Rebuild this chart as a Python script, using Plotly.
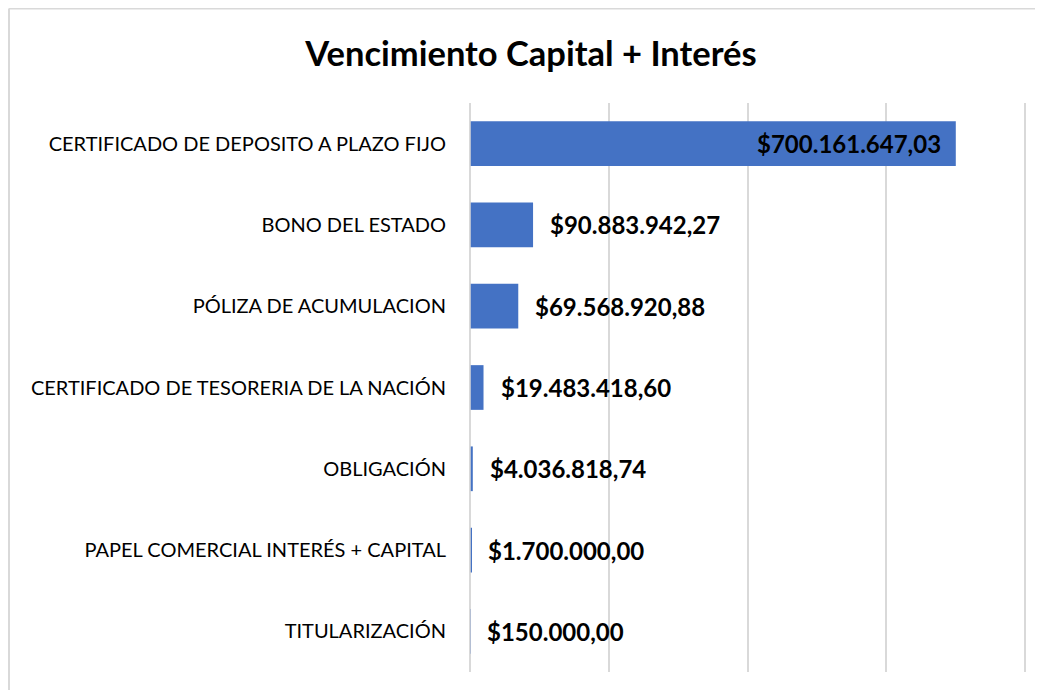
import plotly.graph_objects as go

categories = [
    "CERTIFICADO DE DEPOSITO A PLAZO FIJO",
    "BONO DEL ESTADO",
    "PÓLIZA DE ACUMULACION",
    "CERTIFICADO DE TESORERIA DE LA NACIÓN",
    "OBLIGACIÓN",
    "PAPEL COMERCIAL INTERÉS + CAPITAL",
    "TITULARIZACIÓN",
]
values = [700161647.03, 90883942.27, 69568920.88, 19483418.60, 4036818.74, 1700000.00, 150000.00]
title_text = "Vencimiento Capital + Interés"

FONT = "Lato"

def fmt(v):
    s = f"{v:,.2f}"
    s = s.replace(",", "X").replace(".", ",").replace("X", ".")
    return "$" + s

fig = go.Figure(go.Bar(
    y=categories, x=values, orientation="h",
    marker=dict(color="#4472C4", line=dict(width=0)),
    hoverinfo="skip",
))

annotations = []
for i, (c, v) in enumerate(zip(categories, values)):
    inside = i == 0
    annotations.append(dict(
        x=v, y=c, xref="x", yref="y", text=fmt(v), showarrow=False,
        xanchor="right" if inside else "left",
        xshift=-13 if inside else 15,
        font=dict(family=FONT, size=24, color="#000000", weight="bold"),
    ))

W, H = 1027, 682
L, T, PW, PH = 462, 95, 562, 569
top_y = (T + PH - 0.5) / PH
left_x = (1 - L) / PW
fig.update_layout(
    width=W, height=H,
    margin=dict(l=L, r=W - L - PW, t=T, b=H - T - PH),
    paper_bgcolor="white", plot_bgcolor="white",
    bargap=0.45,
    showlegend=False,
    title=dict(text="<b>" + title_text + "</b>", x=(523)/W, xanchor="center",
               y=1 - 46/H, yanchor="middle",
               font=dict(family=FONT, size=34.5, color="#000000")),
    font=dict(family=FONT, color="#000000"),
    annotations=annotations,
    xaxis=dict(range=[0, 810000000], tickvals=[0, 200000000, 400000000, 600000000, 800000000],
               showticklabels=False,
               showgrid=True, gridcolor="#d9d9d9", gridwidth=1.5,
               zeroline=True, zerolinecolor="#d9d9d9", zerolinewidth=1.5,
               showline=False, fixedrange=True),
    yaxis=dict(autorange="reversed", showgrid=False, zeroline=False, showline=False,
               ticks="", ticklabelstandoff=23,
               tickfont=dict(family=FONT, size=20, color="#000000")),
    shapes=[
        dict(type="line", xref="paper", yref="paper",
             x0=left_x, x1=1.2, y0=top_y, y1=top_y,
             line=dict(color="#d9d9d9", width=2), layer="below"),
        dict(type="line", xref="paper", yref="paper",
             x0=left_x, x1=left_x, y0=-0.2, y1=top_y,
             line=dict(color="#d9d9d9", width=2), layer="below"),
        dict(type="line", xref="x", yref="paper", x0=0, x1=0, y0=0, y1=1,
             line=dict(color="#d9d9d9", width=1.5), layer="above"),
    ],
)

fig.write_html("out.html")
